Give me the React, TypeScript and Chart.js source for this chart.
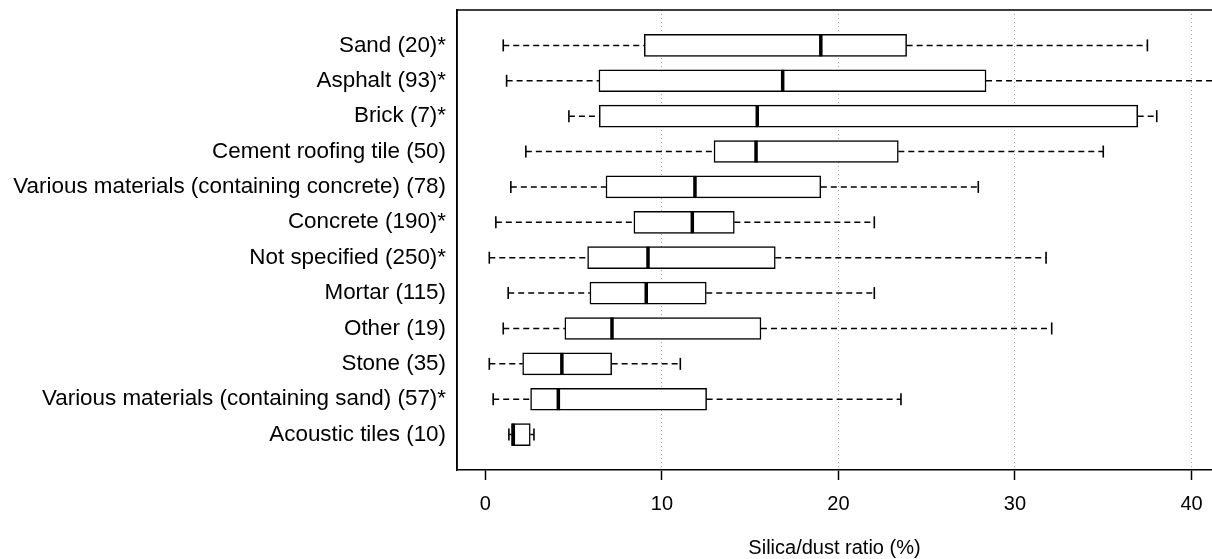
import { useEffect, useRef } from "react";
import { Chart, registerables } from "chart.js";

Chart.register(...registerables);

// Categories listed from top to bottom
const categories = [
  "Sand (20)*",
  "Asphalt (93)*",
  "Brick (7)*",
  "Cement roofing tile (50)",
  "Various materials (containing concrete) (78)",
  "Concrete (190)*",
  "Not specified (250)*",
  "Mortar (115)",
  "Other (19)",
  "Stone (35)",
  "Various materials (containing sand) (57)*",
  "Acoustic tiles (10)",
];
const lowerWhisker = [1.01, 1.2, 4.73, 2.29, 1.44, 0.59, 0.22, 1.29, 1.01, 0.22, 0.44, 1.33];
const q1 = [9.0, 6.43, 6.45, 12.95, 6.83, 8.41, 5.79, 5.92, 4.5, 2.11, 2.56, 1.48];
const median = [19.0, 16.84, 15.4, 15.33, 11.87, 11.72, 9.21, 9.11, 7.17, 4.33, 4.13, 1.58];
const q3 = [23.86, 28.36, 36.95, 23.39, 19.0, 14.1, 16.42, 12.51, 15.61, 7.15, 12.53, 2.54];
const upperWhisker = [37.5, 46.0, 38.03, 35.0, 27.92, 22.03, 31.76, 22.03, 32.08, 11.04, 23.54, 2.75];
const xTicks = [0, 10, 20, 30, 40];
const xTitle = "Silica/dust ratio (%)";

const FONT = '"Liberation Sans", Arial, Helvetica, sans-serif';

export default function App() {
  const ref = useRef<HTMLCanvasElement | null>(null);

  useEffect(() => {
    const canvas = ref.current;
    if (!canvas) return;
    const n = categories.length;
    const pos = (i: number) => n - i;

    const boxData = categories.map((_, i) => ({ x: [q1[i], q3[i]], y: pos(i) }));
    const medianData = categories.map((_, i) => ({ x: median[i], y: pos(i) }));
    const capData: any[] = [];
    const whiskerData: any[] = [];
    categories.forEach((_, i) => {
      capData.push({ x: lowerWhisker[i], y: pos(i) });
      capData.push({ x: upperWhisker[i], y: pos(i) });
      whiskerData.push({ x: lowerWhisker[i], y: pos(i) });
      whiskerData.push({ x: q1[i], y: pos(i) });
      whiskerData.push({ x: null, y: null });
      whiskerData.push({ x: q3[i], y: pos(i) });
      whiskerData.push({ x: upperWhisker[i], y: pos(i) });
      whiskerData.push({ x: null, y: null });
    });

    const framePlugin = {
      id: "frame",
      afterDraw(chart: any) {
        const { ctx, chartArea } = chart;
        ctx.save();
        ctx.strokeStyle = "#000";
        ctx.lineWidth = 1.5;
        ctx.beginPath();
        ctx.moveTo(chartArea.left, chartArea.bottom);
        ctx.lineTo(chartArea.left, chartArea.top);
        ctx.lineTo(chartArea.right + 2, chartArea.top);
        ctx.stroke();
        ctx.restore();
      },
    };

    const chart = new Chart(canvas, {
      type: "bar",
      data: {
        datasets: [
          {
            type: "scatter",
            label: "median",
            data: medianData,
            pointStyle: "line",
            rotation: 90,
            pointRadius: 11,
            pointBorderWidth: 3.5,
            borderColor: "#000",
            backgroundColor: "#000",
            order: 0,
          } as any,
          {
            type: "bar",
            label: "box",
            data: boxData,
            indexAxis: "y",
            barThickness: 22,
            backgroundColor: "#fff",
            borderColor: "#000",
            borderWidth: 1.5,
            borderSkipped: false,
            order: 1,
          } as any,
          {
            type: "line",
            label: "whisker",
            data: whiskerData,
            borderColor: "#000",
            borderWidth: 1.5,
            borderDash: [6, 4],
            pointRadius: 0,
            spanGaps: false,
            fill: false,
            tension: 0,
            order: 2,
          } as any,
          {
            type: "scatter",
            label: "cap",
            data: capData,
            pointStyle: "line",
            rotation: 90,
            pointRadius: 6,
            pointBorderWidth: 1.6,
            borderColor: "#000",
            backgroundColor: "#000",
            order: 2,
          } as any,
        ],
      },
      options: {
        responsive: false,
        animation: false,
        indexAxis: "y",
        layout: { autoPadding: false, padding: { top: 10, left: 0, right: 0, bottom: 0 } },
        plugins: {
          legend: { display: false },
          tooltip: { enabled: false },
        },
        scales: {
          x: {
            type: "linear",
            min: -1.61,
            max: 41.16,
            offset: false,
            afterBuildTicks: (scale: any) => {
              scale.ticks = xTicks.map((v) => ({ value: v }));
            },
            afterFit: (scale: any) => {
              scale.height = 89;
              scale.paddingLeft = 0;
              scale.paddingRight = 0;
            },
            grid: {
              display: true,
              drawOnChartArea: true,
              drawTicks: true,
              offset: false,
              tickLength: 10,
              tickColor: "#000",
              tickWidth: 1.5,
              color: (ctx: any) => (ctx.tick && ctx.tick.value === 0 ? "rgba(0,0,0,0)" : "#a8a8a8"),
              lineWidth: 1,
            },
            border: { display: true, color: "#000", width: 1.5, dash: [1, 3] },
            ticks: {
              color: "#000",
              padding: 12,
              maxRotation: 0,
              font: { family: FONT, size: 20 },
              callback: (v: any) => String(v),
            },
            title: {
              display: true,
              text: xTitle,
              color: "#000",
              font: { family: FONT, size: 20, lineHeight: 1 },
              padding: { top: 0, bottom: 1 },
            },
          },
          y: {
            type: "linear",
            min: 0,
            max: 13,
            offset: false,
            afterBuildTicks: (scale: any) => {
              scale.ticks = categories.map((_, i) => ({ value: pos(i) }));
            },
            afterFit: (scale: any) => {
              scale.width = 457;
              scale.paddingTop = 0;
              scale.paddingBottom = 0;
            },
            grid: { display: false, drawTicks: false, offset: false },
            border: { display: true, color: "#000", width: 1.5 },
            ticks: {
              color: "#000",
              padding: 11,
              autoSkip: false,
              font: { family: FONT, size: 22.4 },
              callback: (v: any) => categories[n - Number(v)] ?? "",
            },
          },
        },
      },
      plugins: [framePlugin],
    });

    return () => chart.destroy();
  }, []);

  return (
    <div style={{ position: "fixed", left: 0, top: 0, width: 1212, height: 559, background: "#fff" }}>
      <canvas ref={ref} width={1212} height={559} style={{ display: "block" }} />
    </div>
  );
}
